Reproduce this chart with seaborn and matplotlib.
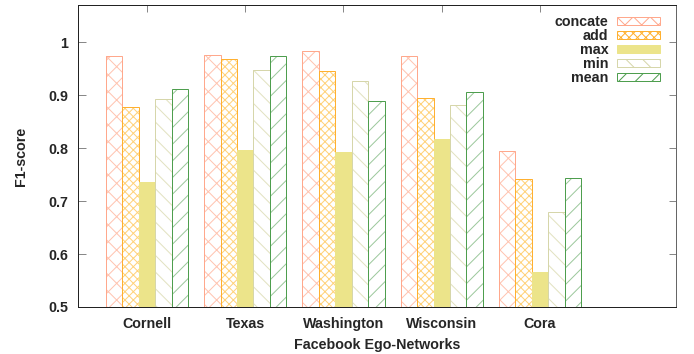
import matplotlib
matplotlib.use("Agg")
import matplotlib.pyplot as plt
from matplotlib.patches import Rectangle, Patch
import pandas as pd
import seaborn as sns

datasets = ["Cornell", "Texas", "Washington", "Wisconsin", "Cora"]
methods = ["concate", "add", "max", "min", "mean"]
concate = [0.974, 0.976, 0.984, 0.973, 0.794]
add = [0.877, 0.969, 0.946, 0.894, 0.741]
max_ = [0.735, 0.796, 0.792, 0.817, 0.567]
min_ = [0.892, 0.948, 0.927, 0.881, 0.679]
mean = [0.911, 0.973, 0.889, 0.905, 0.743]
y_ticks = [0.5, 0.6, 0.7, 0.8, 0.9, 1.0]
y_tick_labels = ["0.5", "0.6", "0.7", "0.8", "0.9", "1"]

# face, hatch, hatch colour, outline colour
styles = {
    "concate": ("white", "xx", "#ffc4b0", "#ffa88c"),
    "add": ("white", "xxxx", "#ffd27a", "#ffb030"),
    "max": ("#ece48a", "", "#ece48a", "#ece48a"),
    "min": ("white", "\\\\", "#e2e2c0", "#d6d6aa"),
    "mean": ("white", "//", "#9cc89c", "#4e9e4e"),
}

DPI = 100
px = 72.0 / DPI

sns.set_theme(style="white")
plt.rcParams["font.family"] = ["Liberation Sans", "DejaVu Sans"]
plt.rcParams["font.weight"] = "bold"
plt.rcParams["hatch.linewidth"] = 1.0 * px

df = pd.DataFrame({
    "dataset": datasets * len(methods),
    "method": [m for m in methods for _ in datasets],
    "F1": concate + add + max_ + min_ + mean,
})

fig = plt.figure(figsize=(694 / DPI, 354 / DPI), dpi=DPI)
ax = fig.add_axes([78 / 694, 1 - 307 / 354, (676 - 78) / 694, (307 - 5) / 354])

sns.barplot(data=df, x="dataset", y="F1", hue="method", order=datasets,
            hue_order=methods, palette=[styles[m][0] for m in methods],
            width=0.838, saturation=1, errorbar=None, legend=False, ax=ax)

for method, container in zip(methods, ax.containers):
    face, hatch, hcol, ecol = styles[method]
    for bar in container:
        bar.set_facecolor(face)
        bar.set_hatch(hatch)
        bar.set_edgecolor(hcol)
        bar.set_linewidth(0)
        ax.add_patch(Rectangle(bar.get_xy(), bar.get_width(), bar.get_height(),
                               fill=False, edgecolor=ecol, linewidth=1.0 * px,
                               zorder=bar.get_zorder() + 0.1))

ax.set_xlim(-0.702, 5.384)
ax.set_ylim(0.5, 1.07)
ax.set_yticks(y_ticks)
ax.set_yticklabels(y_tick_labels)

fs = 14.3 * px
ax.tick_params(axis="y", direction="in", length=7.5 * px, width=1.0 * px,
               color="#888888", left=True, right=True, labelsize=fs, pad=10 * px)
ax.tick_params(axis="x", direction="in", length=7 * px, width=1.0 * px,
               color="#888888", top=True, bottom=False, labelsize=fs, pad=10 * px)
for lab in ax.get_xticklabels() + ax.get_yticklabels():
    lab.set_fontweight("bold")

for side in ["left", "right", "top", "bottom"]:
    ax.spines[side].set_visible(True)
    ax.spines[side].set_linewidth(1.0 * px)
    ax.spines[side].set_color("#222222")
ax.spines["right"].set_color("#666666")

ax.set_xlabel("Facebook Ego-Networks", fontsize=fs, fontweight="bold", labelpad=7 * px)
ax.set_ylabel("F1-score", fontsize=fs, fontweight="bold", labelpad=20 * px)

handles = []
for m in methods:
    face, hatch, hcol, ecol = styles[m]
    h = Patch(facecolor=face, hatch=hatch, edgecolor=ecol, linewidth=1.0 * px, label=m)
    handles.append(h)
leg = ax.legend(handles=handles, loc="upper right", frameon=False, markerfirst=False,
                fontsize=fs, handlelength=3.0, handleheight=0.42, labelspacing=0.0,
                handletextpad=0.6, borderaxespad=0.4, bbox_to_anchor=(0.992, 1.005))
for t in leg.get_texts():
    t.set_fontweight("bold")
    t.set_ha("right")

fig.savefig("out.png", dpi=DPI)
